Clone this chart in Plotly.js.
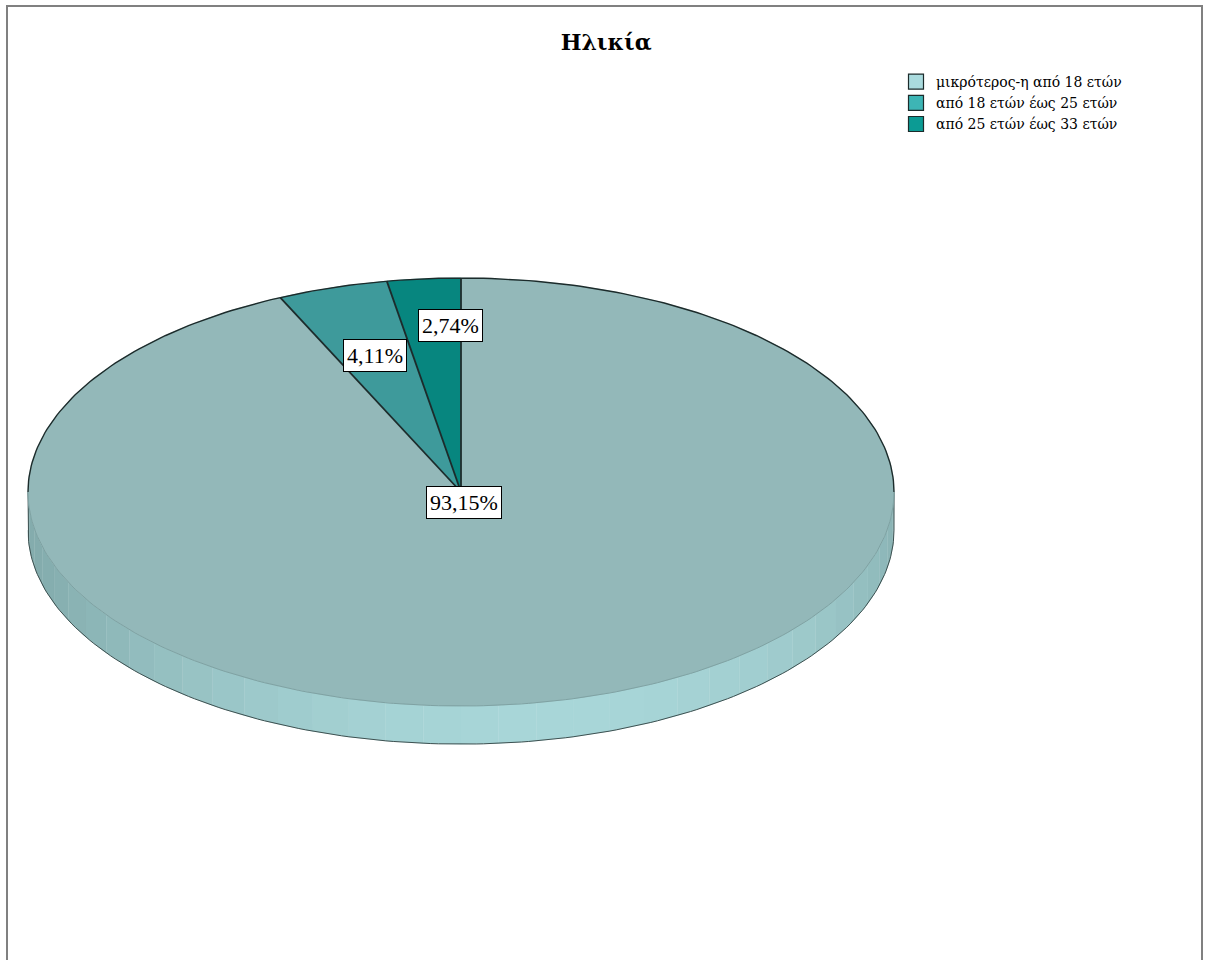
<!DOCTYPE html>
<html>
<head>
<meta charset="utf-8">
<script src="https://cdn.plot.ly/plotly-3.0.1.min.js"></script>
<style>
html,body{margin:0;padding:0;background:#fff;}
</style>
</head>
<body>
<div id="chart" style="width:1205px;height:960px;"></div>
<script>
// ---- data ----
const categories = ['μικρότερος-η από 18 ετών', 'από 18 ετών έως 25 ετών', 'από 25 ετών έως 33 ετών'];
const values = [93.15, 4.11, 2.74];
const valueLabels = ['93,15%', '4,11%', '2,74%'];
const chartTitle = 'Ηλικία';

// ---- style ----
const faceColors = ['#93b8b9', '#3e9a9b', '#07867f'];
const legendColors = ['#aadbde', '#3db5b5', '#0c9b94'];
const edgeColor = '#1c2b2b';
const serif = 'Liberation Serif, Times New Roman, serif';
const wideSerif = 'DejaVu Serif, Liberation Serif, serif';
const depth = 0.178;           // thickness of the disc, in radius units of y
const W = 1205, H = 960;
const cxPx = 461, cyPx = 492, rxPx = 433, ryPx = 214;

const traces = [];
const total = values.reduce((a, b) => a + b, 0);

function pt(theta) { // theta in degrees, from 12 o'clock, counter-clockwise
  const t = theta * Math.PI / 180;
  return [-Math.sin(t), Math.cos(t)];
}

// side band (front half of the disc), shaded
const nSeg = 36;
for (let k = 0; k < nSeg; k++) {
  const a0 = 90 + 180 * k / nSeg, a1 = 90 + 180 * (k + 1) / nSeg;
  const xs = [], ys = [];
  for (let a = a0; a <= a1 + 1e-9; a += (a1 - a0) / 6) { const p = pt(a); xs.push(p[0]); ys.push(p[1]); }
  for (let a = a1; a >= a0 - 1e-9; a -= (a1 - a0) / 6) { const p = pt(a); xs.push(p[0]); ys.push(p[1] - depth); }
  const mid = (a0 + a1) / 2;
  const f = Math.max(0, Math.cos((mid - 192) * Math.PI / 180));
  const c0 = [132, 172, 173], c1 = [168, 214, 216];
  const col = 'rgb(' + c0.map((v, i) => Math.round(v + (c1[i] - v) * Math.pow(f, 1.4))).join(',') + ')';
  traces.push({
    type: 'scatter', mode: 'lines', x: xs, y: ys, fill: 'toself',
    fillcolor: col, line: {width: 0.6, color: col}, hoverinfo: 'skip', showlegend: false
  });
}
// outline of side: left edge, bottom rim, right edge
(function () {
  const xs = [], ys = [];
  let p = pt(90); xs.push(p[0]); ys.push(p[1]);
  for (let a = 90; a <= 270; a += 1) { p = pt(a); xs.push(p[0]); ys.push(p[1] - depth); }
  p = pt(270); xs.push(p[0]); ys.push(p[1]);
  traces.push({type: 'scatter', mode: 'lines', x: xs, y: ys, line: {width: 1, color: '#3d5050'}, hoverinfo: 'skip', showlegend: false});
})();

// top face slices: start at 12 o'clock, counter-clockwise from the last category
const order = [2, 1, 0];
let start = 0;
const mids = {};
const bounds = [];
order.forEach(i => {
  const sweep = values[i] / total * 360;
  const xs = [0], ys = [0];
  const steps = Math.max(2, Math.ceil(sweep));
  for (let s = 0; s <= steps; s++) { const p = pt(start + sweep * s / steps); xs.push(p[0]); ys.push(p[1]); }
  xs.push(0); ys.push(0);
  traces.push({
    type: 'scatter', mode: 'lines', x: xs, y: ys, fill: 'toself',
    fillcolor: faceColors[i], line: {width: 0.5, color: faceColors[i]},
    hoverinfo: 'skip', showlegend: false
  });
  bounds.push(start);
  mids[i] = start + sweep / 2;
  start += sweep;
});

// front rim of top face (soft)
(function () {
  const xs = [], ys = [];
  for (let a = 90; a <= 270; a += 1) { const p = pt(a); xs.push(p[0]); ys.push(p[1]); }
  traces.push({type: 'scatter', mode: 'lines', x: xs, y: ys, line: {width: 1, color: '#7fa2a3'}, hoverinfo: 'skip', showlegend: false});
})();
// back rim (dark) and slice borders
(function () {
  const xs = [], ys = [];
  for (let a = -90; a <= 90; a += 1) { const p = pt(a); xs.push(p[0]); ys.push(p[1]); }
  traces.push({type: 'scatter', mode: 'lines', x: xs, y: ys, line: {width: 1.4, color: edgeColor}, hoverinfo: 'skip', showlegend: false});
  const rx = [], ry = [];
  bounds.forEach(b => { const p = pt(b); rx.push(0, p[0], null); ry.push(0, p[1], null); });
  traces.push({type: 'scatter', mode: 'lines', x: rx, y: ry, line: {width: 1.8, color: edgeColor}, hoverinfo: 'skip', showlegend: false, connectgaps: false});
})();

// legend entries
categories.forEach((c, i) => {
  traces.push({
    type: 'scatter', mode: 'markers', x: [null], y: [null], name: c,
    marker: {symbol: 'square', size: 15, color: legendColors[i], line: {width: 1.2, color: '#1c2b2b'}},
    showlegend: true
  });
});

// value labels
const labelRadius = [0, 0.667, 0.78];
const labelShift = [[3, -10], [0, 0], [19, 0]];
const annotations = valueLabels.map((t, i) => {
  const p = pt(mids[i]);
  return {
    x: p[0] * labelRadius[i], y: p[1] * labelRadius[i], xref: 'x', yref: 'y',
    text: t, showarrow: false, xshift: labelShift[i][0], yshift: labelShift[i][1],
    font: {family: serif, size: 22, color: '#000'},
    bgcolor: '#ffffff', bordercolor: '#000000', borderwidth: 1, borderpad: 3
  };
});

const layout = {
  width: W, height: H, autosize: false,
  margin: {l: 0, r: 0, t: 0, b: 0},
  paper_bgcolor: '#ffffff', plot_bgcolor: '#ffffff',
  title: {
    text: '<b>' + chartTitle + '</b>', x: 0.503, xanchor: 'center', y: 1 - 42 / H, yanchor: 'middle',
    xref: 'paper', yref: 'container',
    font: {family: wideSerif, size: 22, color: '#000'}
  },
  xaxis: {range: [(0 - cxPx) / rxPx, (W - cxPx) / rxPx], visible: false, fixedrange: true},
  yaxis: {range: [(cyPx - H) / ryPx, cyPx / ryPx], visible: false, fixedrange: true},
  showlegend: true,
  legend: {
    x: 896 / W, y: 1 - 66 / H, xanchor: 'left', yanchor: 'top',
    font: {family: wideSerif, size: 14, color: '#000'},
    bgcolor: 'rgba(0,0,0,0)', tracegroupgap: 0, itemclick: false
  },
  annotations: annotations,
  shapes: [{
    type: 'rect', xref: 'paper', yref: 'paper',
    x0: 7 / W, x1: 1202 / W, y0: -0.01, y1: 1 - 6 / H,
    line: {color: '#808080', width: 2}, fillcolor: 'rgba(0,0,0,0)'
  }]
};

Plotly.newPlot('chart', traces, layout, {staticPlot: true, displayModeBar: false});
</script>
</body>
</html>
